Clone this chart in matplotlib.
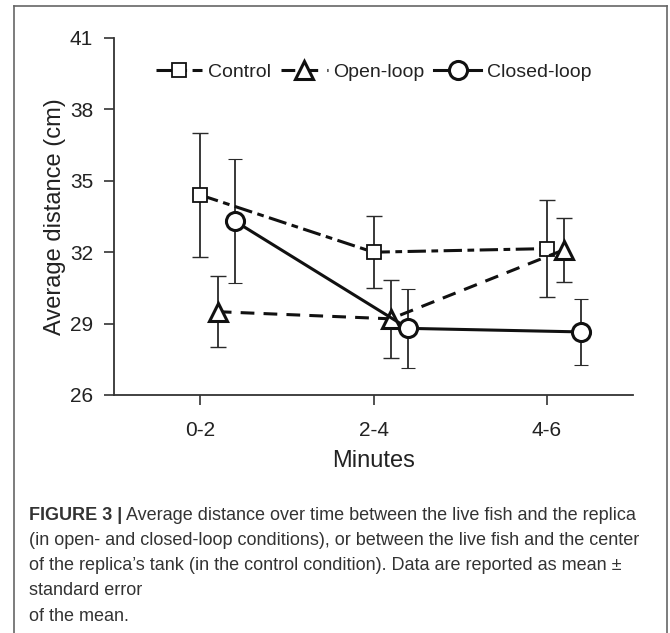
import matplotlib
matplotlib.use("Agg")
import numpy as np
import matplotlib.pyplot as plt
from matplotlib.lines import Line2D

plt.rcParams['font.family'] = ['Liberation Sans', 'DejaVu Sans']

# data
minutes = ['0-2', '2-4', '4-6']
control_mean = [34.4, 32.0, 32.15]
control_se = [2.6, 1.5, 2.05]
open_mean = [29.5, 29.2, 32.1]
open_se = [1.5, 1.65, 1.35]
closed_mean = [33.3, 28.8, 28.65]
closed_se = [2.6, 1.65, 1.4]

fig = plt.figure(figsize=(6.7, 6.33), dpi=100)
ax = fig.add_axes([0.170, 0.376, 0.775, 0.564])

x = np.arange(len(minutes))
ink = '#111111'
ebc = '#2a2a2a'

# control, dash-dot
ax.errorbar(x + 0.0, control_mean, yerr=control_se, fmt='none', ecolor=ebc,
            elinewidth=1.3, capsize=6, capthick=1.0, zorder=2)
h1, = ax.plot(x + 0.0, control_mean, color=ink, lw=2.2, dashes=(6, 1.8, 2.2, 1.8),
              marker='s', ms=10, mfc='white', mec=ink, mew=1.3, label='Control', zorder=3)
# open loop, dashed
ax.errorbar(x + 0.1, open_mean, yerr=open_se, fmt='none', ecolor=ebc,
            elinewidth=1.3, capsize=6, capthick=1.0, zorder=2)
h2, = ax.plot(x + 0.1, open_mean, color=ink, lw=2.2, dashes=(4.5, 3),
              marker='^', ms=13, mfc='white', mec=ink, mew=2.2, label='Open-loop', zorder=3)
# closed loop, solid
ax.errorbar(x + 0.2, closed_mean, yerr=closed_se, fmt='none', ecolor=ebc,
            elinewidth=1.3, capsize=5, capthick=0.8, zorder=2)
h3, = ax.plot(x + 0.2, closed_mean, color=ink, lw=2.2, ls='-',
              marker='o', ms=13, mfc='white', mec=ink, mew=2.2, label='Closed-loop', zorder=3)

ax.set_xlim(-0.5, 2.5)
ax.set_ylim(26, 41)
ax.set_yticks([26, 29, 32, 35, 38, 41])
ax.set_xticks(x)
ax.set_xticklabels(minutes)
ax.tick_params(labelsize=15, length=7, width=1.2, color='#333333',
               labelcolor='#222222', direction='out')
ax.tick_params(axis='x', pad=12)
ax.tick_params(axis='y', pad=8)
for s in ['top', 'right']:
    ax.spines[s].set_visible(False)
for s in ['left', 'bottom']:
    ax.spines[s].set_linewidth(1.3)
    ax.spines[s].set_color('#333333')

ax.set_xlabel('Minutes', fontsize=17, color='#222222', labelpad=7)
ax.set_ylabel('Average distance (cm)', fontsize=17, color='#222222', labelpad=3)

leg = ax.legend(handles=[h1, h2, h3], loc='center', bbox_to_anchor=(0.5, 0.905),
                ncol=3, frameon=False, fontsize=14, handlelength=2.4, handletextpad=0.3,
                columnspacing=0.5, numpoints=1)
for t in leg.get_texts():
    t.set_color('#222222')

# border around the figure panel
bc = '#666666'
for xs, ys in [([14, 14], [633, 6]), ([14, 667], [6, 6]), ([667, 667], [6, 633])]:
    fig.add_artist(Line2D([v / 670 for v in xs], [1 - v / 633 for v in ys],
                          color=bc, lw=1.2, transform=fig.transFigure))

# caption, sized so the third line spans the same width as in the reference
cap_font = ['Liberation Sans', 'DejaVu Sans']
cap_color = '#333333'
first_bold = 'FIGURE 3 |'
first_rest = ' Average distance over time between the live fish and the replica'
lines = ['(in open- and closed-loop conditions), or between the live fish and the center',
         'of the replica\u2019s tank (in the control condition). Data are reported as mean \u00b1',
         'standard error',
         'of the mean.']

r = fig.canvas.get_renderer()
probe = fig.text(0, 0, lines[1], fontsize=15, family=cap_font)
w = probe.get_window_extent(r).width
probe.remove()
fs = 15 * 593 / w

x0 = 29 / 670
y0 = 1 - 515 / 633
step = 25.3 / 633
bold = fig.text(x0, y0, first_bold, fontsize=fs, fontweight='bold',
                family=cap_font, color=cap_color, va='center')
ax.annotate(first_rest, xy=(1, 0.5), xycoords=bold, va='center', ha='left',
            fontsize=fs, family=cap_font, color=cap_color, annotation_clip=False)
for i, ln in enumerate(lines):
    fig.text(x0, y0 - (i + 1) * step, ln, fontsize=fs, family=cap_font,
             color=cap_color, va='center')

fig.savefig('out.png', dpi=100)
